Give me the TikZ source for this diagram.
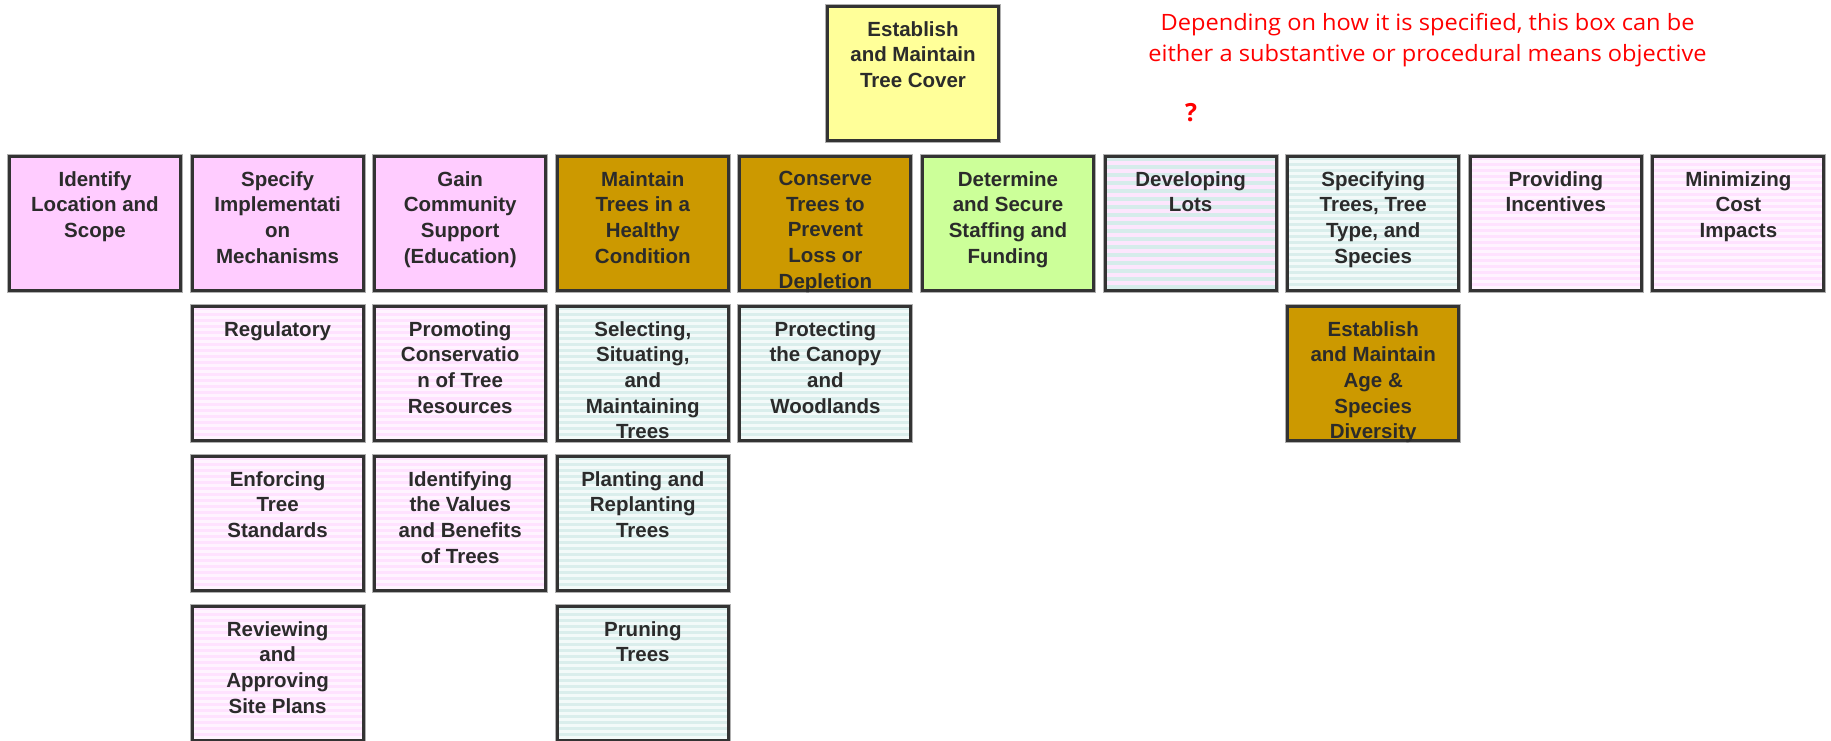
\documentclass[tikz,border=0pt]{standalone}
\usepackage{fontspec}
\usepackage{graphicx}
\setmainfont{Liberation Sans}
\newfontfamily\notefont{Open Sans}
\definecolor{boxline}{HTML}{333333}
\definecolor{shadowc}{HTML}{B0B0B0}
\definecolor{txtc}{HTML}{2B2B2B}
\definecolor{pinkS}{HTML}{FFCCFF}
\definecolor{goldS}{HTML}{CC9900}
\definecolor{yellowS}{HTML}{FFFF99}
\definecolor{greenS}{HTML}{CCFF99}
\definecolor{pinkBase}{HTML}{FFF4FF}
\definecolor{pinkStripe}{HTML}{FFE2FF}
\definecolor{tealBase}{HTML}{F3FAF9}
\definecolor{tealStripe}{HTML}{DAEEEC}
\definecolor{devPink}{HTML}{FDE6FD}
\definecolor{devTeal}{HTML}{D6ECEB}
\definecolor{noteRed}{HTML}{FF0000}
\tikzset{
  box/.style={draw=boxline, line width=3pt, minimum width=171pt, minimum height=134pt,
    inner sep=0pt, outer sep=0pt, preaction={draw=shadowc, line width=5pt}},
  txt/.style={anchor=north, align=center, inner sep=0pt, text=txtc,
    font=\bfseries\fontsize{20.5}{25.7}\selectfont},
  stripes/.style n args={4}{fill=#1, path picture={
    \foreach \k in {0,...,30}{
      \fill[#2] ([yshift={-\k*#3}]path picture bounding box.north west) rectangle
                ([yshift={-\k*#3-#4}]path picture bounding box.north east);}}},
  solidpink/.style={fill=pinkS},
  gold/.style={fill=goldS},
  yellowbox/.style={fill=yellowS},
  greenbox/.style={fill=greenS},
  pinkstr/.style={stripes={pinkBase}{pinkStripe}{6pt}{3pt}},
  tealstr/.style={stripes={tealBase}{tealStripe}{6pt}{3pt}},
  devstr/.style={stripes={devPink}{devTeal}{8pt}{4pt}},
  note/.style={align=center, text=noteRed, inner sep=0pt,
    font=\notefont\fontsize{22.5}{31}\selectfont},
  qmark/.style={text=noteRed, inner sep=0pt, font=\notefont\bfseries\fontsize{25}{28}\selectfont}
}
\newcommand\obox[5]{%
  \node[box,#4] (#1) at (#2,#3) {};
  \node[txt] (#1t) at ([yshift=-14.5pt]#1.north) {#5};
}
\begin{document}
\begin{tikzpicture}[x=1pt,y=-1pt]
\useasboundingbox (0,0) rectangle (1831,740);
% top
\obox{top}{913}{73.5}{yellowbox}{Establish\\and Maintain\\Tree Cover}
% row 1
\obox{a1}{95}{223.5}{solidpink}{Identify\\Location and\\Scope}
\obox{a2}{277.6}{223.5}{solidpink}{Specify\\Implementati\\on\\Mechanisms}
\obox{a3}{460.2}{223.5}{solidpink}{Gain\\Community\\Support\\(Education)}
\obox{a4}{642.8}{223.5}{gold}{Maintain\\Trees in a\\Healthy\\Condition}
\obox{a5}{825.4}{223.5}{gold}{Conserve\\Trees to\\Prevent\\Loss or\\Depletion}
\obox{a6}{1008}{223.5}{greenbox}{Determine\\and Secure\\Staffing and\\Funding}
\obox{a7}{1190.6}{223.5}{devstr}{Developing\\Lots}
\obox{a8}{1373.2}{223.5}{tealstr}{Specifying\\Trees, Tree\\Type, and\\Species}
\obox{a9}{1555.8}{223.5}{pinkstr}{Providing\\Incentives}
\obox{a10}{1738.4}{223.5}{pinkstr}{Minimizing\\Cost\\Impacts}
% row 2
\obox{b2}{277.6}{373.5}{pinkstr}{Regulatory}
\obox{b3}{460.2}{373.5}{pinkstr}{Promoting\\Conservatio\\n of Tree\\Resources}
\obox{b4}{642.8}{373.5}{tealstr}{Selecting,\\Situating,\\and\\Maintaining\\Trees}
\obox{b5}{825.4}{373.5}{tealstr}{Protecting\\the Canopy\\and\\Woodlands}
\obox{b8}{1373.2}{373.5}{gold}{Establish\\and Maintain\\Age \&\\Species\\Diversity}
% row 3
\obox{c2}{277.6}{523.5}{pinkstr}{Enforcing\\Tree\\Standards}
\obox{c3}{460.2}{523.5}{pinkstr}{Identifying\\the Values\\and Benefits\\of Trees}
\obox{c4}{642.8}{523.5}{tealstr}{Planting and\\Replanting\\Trees}
% row 4
\obox{d2}{277.6}{673.5}{pinkstr}{Reviewing\\and\\Approving\\Site Plans}
\obox{d4}{642.8}{673.5}{tealstr}{Pruning\\Trees}
% note
\node[note] (note) at (1427.5,40) {\scalebox{1.05}[1]{Depending on how it is specified, this box can be}\\\scalebox{1.05}[1]{either a substantive or procedural means objective}};
\node[qmark] (q) at (1191,113) {?};
\end{tikzpicture}
\end{document}
